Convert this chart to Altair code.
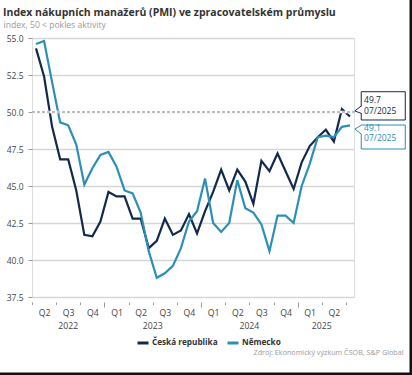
import json
import altair as alt
import pandas as pd

# ---------------- data ----------------
months = [f"{y}-{m:02d}" for y, m in
          [(2022, m) for m in range(4, 13)] + [(2023, m) for m in range(1, 13)] +
          [(2024, m) for m in range(1, 13)] + [(2025, m) for m in range(1, 8)]]

series_names = ["Česká republika", "Německo"]
cz = [54.3, 52.4, 49.0, 46.8, 46.8, 44.7, 41.7, 41.6, 42.6, 44.6,
      44.3, 44.3, 42.8, 42.8, 40.8, 41.3, 42.8, 41.7, 42.0, 43.1,
      41.8, 43.3, 44.6, 46.1, 44.7, 46.1, 45.3, 43.8, 46.7, 46.0,
      47.2, 46.0, 44.8, 46.6, 47.7, 48.3, 48.8, 48.0, 50.2, 49.7]
de = [54.6, 54.8, 52.0, 49.3, 49.1, 47.8, 45.1, 46.2, 47.1, 47.3,
      46.3, 44.7, 44.5, 43.2, 40.6, 38.8, 39.1, 39.6, 40.8, 42.6,
      43.3, 45.5, 42.5, 41.9, 42.5, 45.4, 43.5, 43.2, 42.4, 40.6,
      43.0, 43.0, 42.5, 45.0, 46.5, 48.3, 48.4, 48.3, 49.0, 49.1]

quarter_labels = ["Q2", "Q3", "Q4", "Q1", "Q2", "Q3", "Q4", "Q1", "Q2", "Q3", "Q4", "Q1", "Q2"]
quarter_centers = [1, 4, 7, 10, 13, 16, 19, 22, 25, 28, 31, 34, 37]
quarter_bounds = [-0.5, 2.5, 5.5, 8.5, 11.5, 14.5, 17.5, 20.5, 23.5, 26.5, 29.5, 32.5, 35.5, 38.5]
year_bounds = [8.5, 20.5, 32.5]
years = ["2022", "2023", "2024", "2025"]
year_centers = [4, 14.5, 26.5, 35.5]
y_ticks = [37.5, 40.0, 42.5, 45.0, 47.5, 50.0, 52.5, 55.0]

last_labels = ["49.7", "49.1"]
last_date = "07/2025"

title = "Index nákupních manažerů (PMI) ve zpracovatelském průmyslu"
subtitle = "index, 50 < pokles aktivity"
source = "Zdroj: Ekonomický výzkum ČSOB, S&P Global"

DARK = "#13294b"
LIGHT = "#2b8fb6"
FONT = "Open Sans"

W, H = 322, 259
PL, PT = 32, 38

# ---------------- tables ----------------
n = len(months)
df = pd.DataFrame({
    "i": list(range(n)) * 2,
    "month": months * 2,
    "v": cz + de,
    "s": [series_names[0]] * n + [series_names[1]] * n,
})

xs = alt.Scale(domain=[-0.5, 39.5], nice=False, zero=False)
ys = alt.Scale(domain=[37.5, 55.0], nice=False, zero=False)
color_scale = alt.Scale(domain=series_names, range=[DARK, LIGHT])

x_axis = alt.Axis(
    values=sorted(quarter_bounds + quarter_centers),
    title=None, grid=False, domain=False,
    offset=5,
    tickColor="#999",
    tickSize={"condition": {"test": f"indexof({json.dumps(year_bounds)}, datum.value) >= 0", "value": 5}, "value": 2.5},
    tickOpacity={"condition": {"test": "datum.value % 1 === 0", "value": 0}, "value": 1},
    labelExpr=f"(datum.value - 1) % 3 === 0 ? {json.dumps(quarter_labels)}[(datum.value - 1) / 3] : ''",
    labelOverlap=False, labelFlush=False, labelBound=False,
    labelFont=FONT, labelFontSize=8.7, labelColor="#444",
    labelPadding=4,
)
y_axis = alt.Axis(
    values=y_ticks, format=".1f", title=None, domain=False,
    tickSize=4, tickColor="#999",
    labelFont=FONT, labelFontSize=8.5, labelColor="#444", labelPadding=5,
    grid=True, gridColor="#d6d6d6", gridWidth=1.6, gridOpacity=1,
)

frame = alt.Chart(pd.DataFrame({"k": [0]})).mark_rule(color="#111", strokeWidth=2.5).encode(
    x=alt.value(412 - PL - 1.25), y=alt.value(-PT), y2=alt.value(375 - PT))
frame2 = alt.Chart(pd.DataFrame({"k": [0]})).mark_rule(color="#111", strokeWidth=2.5).encode(
    x=alt.value(-PL), x2=alt.value(412 - PL), y=alt.value(375 - PT - 1.25))

# white underlay + dashed 50 reference line (covers the solid grid line at 50)
ref_under = alt.Chart(pd.DataFrame({"g": [50.0]})).mark_rule(color="white", strokeWidth=2.5).encode(
    y=alt.Y("g:Q", scale=ys, axis=None),
    x=alt.value(0), x2=alt.value(W),
)
ref = alt.Chart(pd.DataFrame({"g": [50.0]})).mark_rule(color="#a8a8a8", strokeWidth=1.3, strokeDash=[3, 2]).encode(
    y=alt.Y("g:Q", scale=ys, axis=None),
    x=alt.value(0), x2=alt.value(W),
)

lines = alt.Chart(df).mark_line(strokeWidth=2.2).encode(
    x=alt.X("i:Q", scale=xs, axis=x_axis),
    y=alt.Y("v:Q", scale=ys, axis=y_axis),
    color=alt.Color("s:N", scale=color_scale, sort=series_names,
                    legend=alt.Legend(title=None, orient="none", legendX=104, legendY=298,
                                      direction="horizontal", symbolType="stroke",
                                      symbolStrokeWidth=3, symbolSize=121,
                                      labelFont=FONT, labelFontSize=8.2, labelFontWeight="bold",
                                      labelColor="#333", labelOffset=2, columnPadding=3)),
    detail="s:N",
)

years_df = pd.DataFrame({"x": year_centers, "t": years})
year_text = alt.Chart(years_df).mark_text(font=FONT, fontSize=8.7, color="#444", baseline="middle").encode(
    x=alt.X("x:Q", scale=xs, axis=None),
    y=alt.value(288),
    text="t:N",
)

# annotation boxes for last values
box_df = pd.DataFrame({
    "x0": [40.4, 40.4], "x1": [45.87, 45.87],
    "y0": [51.37, 49.12], "y1": [49.46, 47.5],
    "c": [DARK, LIGHT],
})
boxes = alt.Chart(box_df).mark_rect(fill="white", strokeWidth=1).encode(
    x=alt.X("x0:Q", scale=xs, axis=None), x2="x1:Q",
    y=alt.Y("y0:Q", scale=ys, axis=None), y2="y1:Q",
    stroke=alt.Color("c:N", scale=None),
)
gap_df = pd.DataFrame({"x": [40.4, 40.4], "ya": [50.38, 49.08], "yb": [49.93, 48.53]})
gaps = alt.Chart(gap_df).mark_rule(color="white", strokeWidth=2).encode(
    x=alt.X("x:Q", scale=xs, axis=None),
    y=alt.Y("ya:Q", scale=ys, axis=None), y2="yb:Q",
)
ptr_df = pd.DataFrame({
    "x": [40.4, 39.6, 40.4, 40.4, 39.6, 40.4],
    "y": [50.41, 50.07, 49.91, 49.1, 48.85, 48.51],
    "o": [0, 1, 2, 0, 1, 2],
    "c": [DARK] * 3 + [LIGHT] * 3,
})
pointers = alt.Chart(ptr_df).mark_line(strokeWidth=1).encode(
    x=alt.X("x:Q", scale=xs, axis=None),
    y=alt.Y("y:Q", scale=ys, axis=None),
    order="o:Q",
    stroke=alt.Color("c:N", scale=None),
    detail="c:N",
)
txt_df = pd.DataFrame({
    "x": [40.75] * 4,
    "y": [50.81, 50.07, 48.9, 48.22],
    "t": [last_labels[0], last_date, last_labels[1], last_date],
    "c": [DARK, DARK, LIGHT, LIGHT],
})
box_text = alt.Chart(txt_df).mark_text(font=FONT, fontSize=8.5, align="left", baseline="middle").encode(
    x=alt.X("x:Q", scale=xs, axis=None),
    y=alt.Y("y:Q", scale=ys, axis=None),
    text="t:N",
    color=alt.Color("c:N", scale=None),
)

# header / footer texts
title_text = alt.Chart(pd.DataFrame({"t": [title]})).mark_text(
    font=FONT, fontSize=10.5, fontWeight="bold", color="#333", align="left", baseline="alphabetic").encode(
    x=alt.value(3 - PL), y=alt.value(15.5 - PT), text="t:N")
sub_text = alt.Chart(pd.DataFrame({"t": [subtitle]})).mark_text(
    font=FONT, fontSize=8.6, color="#9a9a9a", align="left", baseline="alphabetic").encode(
    x=alt.value(3.5 - PL), y=alt.value(28 - PT), text="t:N")
src = alt.Chart(pd.DataFrame({"t": [source]})).mark_text(
    font=FONT, fontSize=7.2, color="#999", align="right", baseline="middle").encode(
    x=alt.value(403.5 - PL), y=alt.value(352.5 - PT), text="t:N")

chart = alt.layer(lines, frame2, ref_under, ref, year_text, boxes, gaps, pointers, box_text,
                  title_text, sub_text, src, frame).resolve_axis(
    x="independent", y="independent"
).properties(
    width=W, height=H,
    autosize=alt.AutoSizeParams(type="none"),
    padding={"left": PL, "top": PT, "right": 412 - PL - W, "bottom": 375 - PT - H},
).configure_view(strokeWidth=0).configure(background="white")

chart.save("out.html", embed_options={"renderer": "svg", "actions": False})
